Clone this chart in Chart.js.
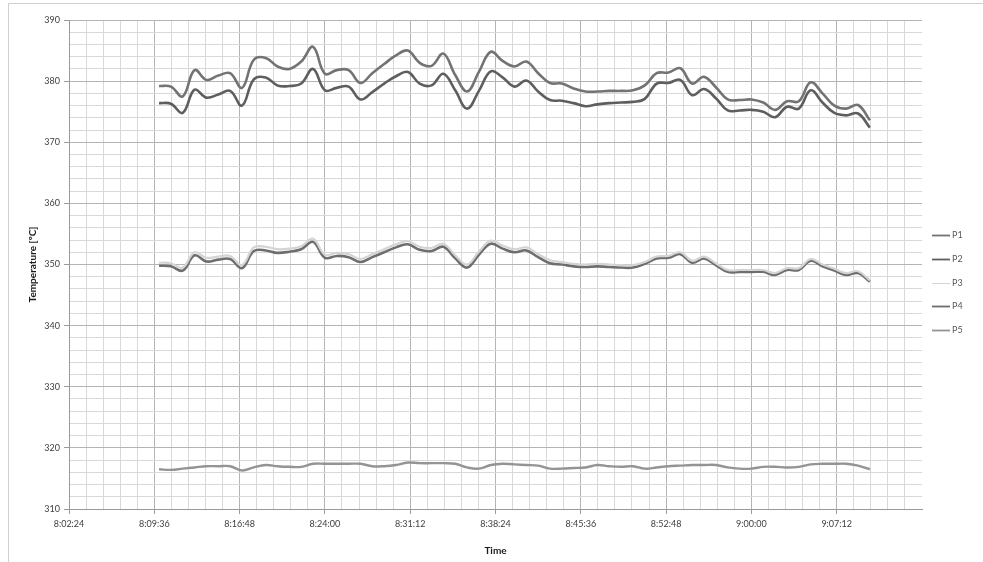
<!DOCTYPE html>
<html>
<head>
<meta charset="utf-8">
<script src="https://cdn.jsdelivr.net/npm/chart.js@4.4.1/dist/chart.umd.min.js"></script>
<style>
  html, body { margin: 0; padding: 0; background: #ffffff; }
  #wrap { position: relative; width: 983px; height: 562px; }
  canvas { display: block; }
</style>
</head>
<body>
<div id="wrap"><canvas id="c" width="983" height="562"></canvas></div>
<script>
// ---- data ----
const seriesNames = ['P1', 'P2', 'P3', 'P4', 'P5'];
const times = ['8:10','8:11','8:12','8:13','8:14','8:15','8:16','8:17','8:18','8:19',
  '8:20','8:21','8:22','8:23','8:24','8:25','8:26','8:27','8:28','8:29',
  '8:30','8:31','8:32','8:33','8:34','8:35','8:36','8:37','8:38','8:39',
  '8:40','8:41','8:42','8:43','8:44','8:45','8:46','8:47','8:48','8:49',
  '8:50','8:51','8:52','8:53','8:54','8:55','8:56','8:57','8:58','8:59',
  '9:00','9:01','9:02','9:03','9:04','9:05','9:06','9:07','9:08','9:09','9:10'];
const p1 = [379.2,379.1,377.5,381.8,380.2,380.9,381.3,378.9,383.5,383.8,
  382.4,382.0,383.2,385.6,381.2,381.8,381.8,379.7,381.3,382.8,
  384.2,385.0,383.0,382.5,384.5,381.0,378.3,381.5,384.8,383.3,
  382.4,383.2,381.3,379.7,379.6,378.8,378.3,378.3,378.4,378.4,
  378.5,379.3,381.3,381.4,382.1,379.6,380.7,379.0,377.0,376.9,
  377.0,376.5,375.3,376.7,376.7,379.8,378.0,376.0,375.5,376.1,373.6];
const p2 = [376.4,376.3,374.8,378.6,377.3,377.8,378.4,376.0,380.3,380.6,
  379.3,379.2,379.6,382.0,378.5,378.9,379.1,377.0,378.2,379.6,
  380.8,381.5,379.6,379.3,381.2,378.5,375.5,378.4,381.6,380.6,
  379.1,380.1,378.3,376.9,376.8,376.4,375.9,376.2,376.4,376.5,
  376.6,377.1,379.6,379.7,380.2,377.7,378.7,377.2,375.2,375.2,
  375.3,375.0,374.1,375.8,375.5,378.5,376.5,374.8,374.4,374.7,372.4];
const p3 = [350.3,350.2,349.5,352.0,351.1,351.3,351.4,349.9,352.8,352.9,
  352.5,352.6,353.0,354.2,351.6,351.9,351.7,350.9,351.7,352.5,
  353.3,353.8,352.9,352.7,353.4,351.5,350.0,352.1,353.9,353.1,
  352.5,352.8,351.7,350.7,350.4,350.1,350.0,350.1,350.0,349.9,
  349.9,350.4,351.3,351.4,352.0,350.6,351.3,350.2,349.1,349.1,
  349.1,349.1,348.6,349.4,349.4,350.9,350.0,349.3,348.6,348.9,347.4];
const p4 = [349.8,349.7,349.0,351.5,350.5,350.8,350.9,349.4,352.2,352.3,
  351.9,352.1,352.5,353.7,351.1,351.4,351.2,350.4,351.2,352.0,
  352.8,353.3,352.4,352.2,352.9,351.0,349.5,351.6,353.4,352.6,
  352.0,352.3,351.2,350.2,350.0,349.7,349.6,349.7,349.6,349.5,
  349.5,350.1,351.0,351.1,351.7,350.3,351.0,349.9,348.8,348.8,
  348.8,348.8,348.3,349.1,349.1,350.6,349.7,349.0,348.3,348.6,347.2];
const p5 = [316.5,316.4,316.6,316.8,317.0,317.0,317.0,316.3,316.8,317.2,
  317.0,316.9,316.9,317.4,317.4,317.4,317.4,317.4,317.0,317.0,
  317.2,317.6,317.5,317.5,317.5,317.4,316.8,316.6,317.2,317.4,
  317.3,317.2,317.1,316.6,316.6,316.7,316.8,317.2,317.0,316.9,
  317.0,316.6,316.8,317.0,317.1,317.2,317.2,317.2,316.8,316.6,
  316.6,316.9,316.9,316.8,316.9,317.3,317.4,317.4,317.4,317.1,316.5];
const xAxisMin = '8:02:24';
const xAxisMax = '9:14:24';
const yAxisMin = 310;
const yAxisMax = 390;

// ---- helpers ----
function toSec(s) {
  const p = s.split(':').map(Number);
  return p[0] * 3600 + p[1] * 60 + (p[2] || 0);
}
function fmt(sec) {
  const s = Math.round(sec);
  const h = Math.floor(s / 3600);
  const m = Math.floor((s % 3600) / 60);
  const ss = s % 60;
  return h + ':' + String(m).padStart(2, '0') + ':' + String(ss).padStart(2, '0');
}
const xMin = toSec(xAxisMin), xMax = toSec(xAxisMax);
const minorX = (xMax - xMin) / 50; // 86.4 s
const allSeries = [p1, p2, p3, p4, p5];
const colors = ['#737373', '#5e5e5e', '#d4d4d4', '#6e6e6e', '#949494'];
const widths = [2.6, 2.6, 2.2, 2.6, 2.4];
const legendWidths = [1.8, 1.8, 1, 1.8, 1.8];

const datasets = allSeries.map((arr, k) => ({
  label: seriesNames[k],
  data: arr.map((v, i) => ({ x: toSec(times[i]), y: v })),
  borderColor: colors[k],
  backgroundColor: colors[k],
  borderWidth: widths[k],
  pointRadius: 0,
  tension: 0.4,
  fill: false
}));

const frameAndLegend = {
  id: 'frameAndLegend',
  beforeDraw(chart) {
    const ctx = chart.ctx;
    ctx.save();
    ctx.fillStyle = '#ffffff';
    ctx.fillRect(0, 0, chart.width, chart.height);
    ctx.strokeStyle = '#d0d0d0';
    ctx.lineWidth = 1;
    ctx.beginPath();
    ctx.moveTo(8.5, 562);
    ctx.lineTo(8.5, 3.5);
    ctx.lineTo(983, 3.5);
    ctx.stroke();
    ctx.restore();
  },
  afterDraw(chart) {
    const ctx = chart.ctx;
    ctx.save();
    ctx.font = '9px Lato, "Liberation Sans", sans-serif';
    ctx.textBaseline = 'middle';
    ctx.textAlign = 'left';
    chart.data.datasets.forEach((ds, i) => {
      const y = Math.round(235 + i * 23.8) + 0.5;
      ctx.strokeStyle = ds.borderColor;
      ctx.lineWidth = legendWidths[i];
      ctx.beginPath();
      ctx.moveTo(932, y);
      ctx.lineTo(950, y);
      ctx.stroke();
      ctx.fillStyle = '#595959';
      ctx.fillText(ds.label, 952, y);
    });
    ctx.restore();
  }
};

new Chart(document.getElementById('c'), {
  type: 'line',
  data: { datasets },
  plugins: [frameAndLegend],
  options: {
    responsive: false,
    animation: false,
    events: [],
    layout: { padding: { left: 0, right: 61, top: 20, bottom: 0 } },
    plugins: { legend: { display: false }, tooltip: { enabled: false } },
    scales: {
      x: {
        type: 'linear',
        min: xMin,
        max: xMax,
        afterBuildTicks(scale) {
          const t = [];
          for (let i = 0; i <= 50; i++) t.push({ value: xMin + i * minorX });
          scale.ticks = t;
        },
        afterFit(scale) { scale.height = 53; },
        ticks: {
          autoSkip: false,
          maxRotation: 0,
          padding: 5,
          color: '#404040',
          font: { family: 'Lato, "Liberation Sans", sans-serif', size: 9 },
          callback(value, index) {
            return (index % 5 === 0 && index < 50) ? fmt(value) : '';
          }
        },
        grid: {
          color(ctx) {
            if (ctx.index === 50) return 'rgba(0,0,0,0)';
            return ctx.index % 5 === 0 ? '#b4b4b4' : '#d9d9d9';
          },
          tickColor(ctx) {
            return (ctx.index % 5 === 0 && ctx.index < 50) ? '#9a9a9a' : 'rgba(0,0,0,0)';
          },
          tickLength: 5,
          lineWidth: 1
        },
        border: { color: '#9a9a9a' },
        title: {
          display: true,
          text: 'Time',
          color: '#1a1a1a',
          font: { family: 'Lato, "Liberation Sans", sans-serif', size: 10, weight: 'bold' },
          padding: { top: 0, bottom: 5 }
        }
      },
      y: {
        type: 'linear',
        min: yAxisMin,
        max: yAxisMax,
        afterBuildTicks(scale) {
          const t = [];
          for (let v = yAxisMin; v <= yAxisMax; v += 2) t.push({ value: v });
          scale.ticks = t;
        },
        afterFit(scale) { scale.width = 69; },
        ticks: {
          autoSkip: false,
          padding: 4,
          color: '#404040',
          font: { family: 'Lato, "Liberation Sans", sans-serif', size: 9 },
          callback(value) { return value % 10 === 0 ? String(value) : ''; }
        },
        grid: {
          color(ctx) {
            const v = ctx.tick ? ctx.tick.value : 0;
            return v % 10 === 0 ? '#b4b4b4' : '#d9d9d9';
          },
          tickColor(ctx) {
            const v = ctx.tick ? ctx.tick.value : 0;
            return v % 10 === 0 ? '#9a9a9a' : 'rgba(0,0,0,0)';
          },
          tickLength: 5,
          lineWidth: 1
        },
        border: { color: '#9a9a9a' },
        title: {
          display: true,
          text: 'Temperature [ºC]',
          color: '#1a1a1a',
          font: { family: 'Lato, "Liberation Sans", sans-serif', size: 10, weight: 'bold' },
          padding: { top: 27, bottom: 0 }
        }
      }
    }
  }
});
</script>
</body>
</html>
